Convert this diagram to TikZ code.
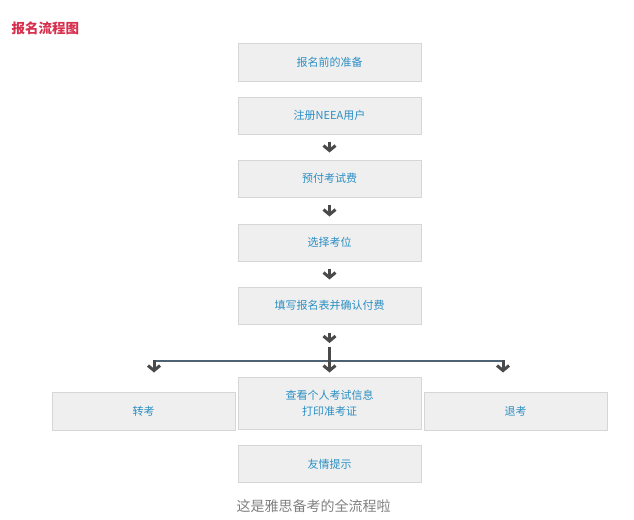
\documentclass[tikz,border=0pt]{standalone}
\usepackage{fontspec}
\setmainfont{Noto Sans CJK SC}
\usetikzlibrary{arrows.meta}
\definecolor{boxfill}{HTML}{EFEFEF}
\definecolor{boxline}{HTML}{D6D6D6}
\definecolor{boxtext}{HTML}{2B8FC4}
\definecolor{arrowgray}{HTML}{4A4A4A}
\definecolor{barline}{HTML}{4F6272}
\definecolor{titlered}{HTML}{D6304E}
\begin{document}
\begin{tikzpicture}[x=1pt, y=-1pt,
  step box/.style={rectangle, draw=boxline, fill=boxfill, line width=1pt, minimum width=183pt, minimum height=37pt, inner sep=0pt, text=boxtext, font=\fontsize{11}{16}\selectfont, align=center},
  flow/.style={draw=arrowgray, line width=3pt, -{Straight Barb[length=5pt, width=12pt, line width=3pt]}, shorten <=7pt, shorten >=7pt},
  bar/.style={draw=barline, line width=2.8pt}]
\useasboundingbox (0,0) rectangle (634,519);
\node [anchor=west, text=titlered, font=\fontsize{13.5}{14}\selectfont\bfseries](title) at (8,28) {报名流程图};
\begin{scope}[every node/.style={step box}]
\node (prep) at (329.5,62.5) {报名前的准备};
\node (reg) at (329.5,115.5) {注册NEEA用户};
\node (pay) at (329.5,178.5) {预付考试费};
\node (seat) at (329.5,242.5) {选择考位};
\node (form) at (329.5,305.5) {填写报名表并确认付费};
\node [minimum height=38pt](transfer) at (143.5,411) {转考};
\node [minimum height=52pt](info) at (329.5,403) {查看个人考试信息\\打印准考证};
\node [minimum height=38pt](refund) at (515.5,411) {退考};
\node (tips) at (329.5,464) {友情提示};
\end{scope}
\node [text=gray, font=\fontsize{14}{14}\selectfont](note) at (313.5,506) {这是雅思备考的全流程啦};
\coordinate (split) at (329.5,361);
\coordinate (lsplit) at (154,361);
\coordinate (rsplit) at (503,361);
\draw [bar] (lsplit) -- (rsplit);
\path
    (reg) edge [flow] (pay)
    (pay) edge [flow] (seat)
    (seat) edge [flow] (form)
    (form) edge [flow, shorten <=8pt, shorten >=18pt] (split)
    (split) edge [flow, shorten <=-14pt, shorten >=4pt] (info)
    (lsplit) edge [flow, shorten <=-1pt, shorten >=19pt] (lsplit |- transfer.north)
    (rsplit) edge [flow, shorten <=-1pt, shorten >=19pt] (rsplit |- refund.north)
    ;
\end{tikzpicture}
\end{document}
